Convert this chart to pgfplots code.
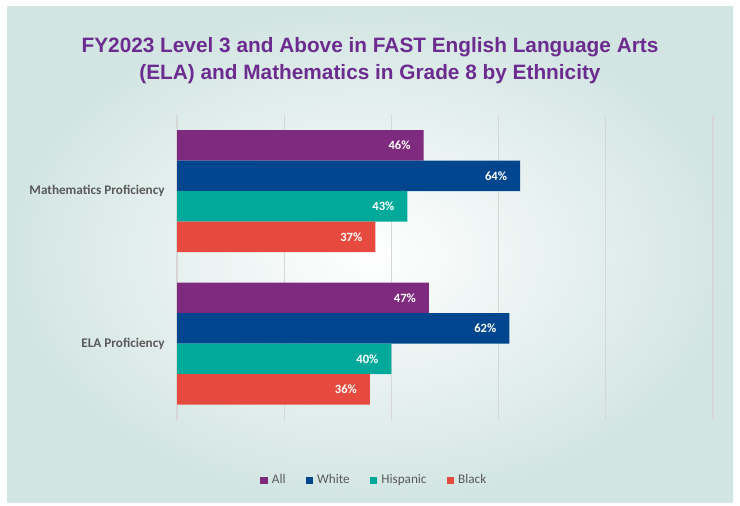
\documentclass[border=0pt]{standalone}
\usepackage{pgfplots}
\pgfplotsset{compat=1.18}
\usepackage{fontspec}
\setmainfont{Carlito}
\newfontfamily\titlefont{Liberation Sans}
\definecolor{cAll}{HTML}{7E2A7E}
\definecolor{cWhite}{HTML}{00468F}
\definecolor{cHisp}{HTML}{00A99A}
\definecolor{cBlack}{HTML}{E64A3E}
\definecolor{titlecol}{HTML}{6C2C8F}
\definecolor{bgteal}{HTML}{D2E5E2}
\definecolor{labgray}{HTML}{595959}
\definecolor{gridgray}{HTML}{D6D6D6}
\begin{document}
\begin{tikzpicture}[x=0.5pt,y=0.5pt]
% page and shaded panel, in pixel units of the 740x506 reference
\fill[white] (0,0) rectangle (740,506);
\shade[inner color=white,outer color=bgteal] (7.5,3) rectangle (733,499.5);
\node[align=center,text=titlecol,font=\titlefont\bfseries\fontsize{10.4}{13.5}\selectfont]
  at (370,445.5) {FY2023 Level 3 and Above in FAST English Language Arts\\(ELA) and Mathematics in Grade 8 by Ethnicity};
\begin{axis}[
  at={(88.5pt,43pt)},anchor=south west,scale only axis,
  width=268pt,height=152.5pt,
  xbar,xmin=0,xmax=100,ymin=-0.5,ymax=1.5,y dir=reverse,
  bar width=0.2,
  xtick={0,20,...,100},xticklabels={},
  xmajorgrids,grid style={gridgray,line width=0.6pt},
  ytick={0,1},yticklabels={Mathematics Proficiency,ELA Proficiency},
  yticklabel style={font=\bfseries\fontsize{6.6}{8}\selectfont,text=labgray,inner sep=0pt,xshift=-6pt},
  axis line style={draw=none},major tick length=0pt,
  nodes near coords={\pgfmathprintnumber[assume math mode=true]{\pgfplotspointmeta}\%},
  every node near coord/.append style={font=\bfseries\fontsize{6.3}{7}\selectfont,text=white,anchor=east,xshift=-3pt},
  legend columns=4,
  legend image code/.code={\fill[#1] (0pt,-1.9pt) rectangle (3.8pt,1.9pt);},
  legend style={at={(0.370,-0.199)},anchor=center,draw=none,fill=none,
    font=\fontsize{6.6}{8}\selectfont,text=labgray,
    /tikz/every even column/.append style={column sep=8pt}},
]
\addplot[fill=cAll,draw=none,bar shift=-0.3] coordinates {(46,0) (47,1)};
\addlegendentry{All}
\addplot[fill=cWhite,draw=none,bar shift=-0.1] coordinates {(64,0) (62,1)};
\addlegendentry{White}
\addplot[fill=cHisp,draw=none,bar shift=0.1] coordinates {(43,0) (40,1)};
\addlegendentry{Hispanic}
\addplot[fill=cBlack,draw=none,bar shift=0.3] coordinates {(37,0) (36,1)};
\addlegendentry{Black}
\end{axis}
\end{tikzpicture}
\end{document}
